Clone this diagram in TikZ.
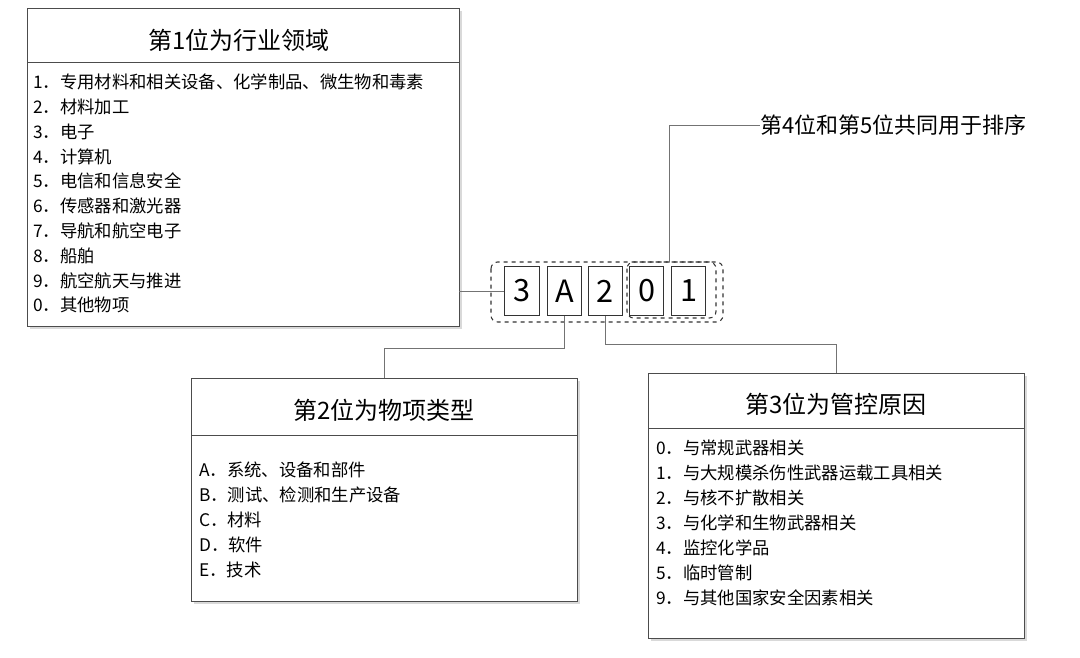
\documentclass[tikz,border=0pt]{standalone}
\usepackage{fontspec}
\setmainfont{Noto Sans CJK SC}
\usetikzlibrary{shadows}
\begin{document}
\begin{tikzpicture}[x=0.75pt,y=-0.75pt,
  panel/.style={draw=black!70,fill=white,line width=0.7pt,drop shadow={shadow xshift=2pt,shadow yshift=-2pt,opacity=0.3}},
  digit/.style={draw=black!80,line width=0.8pt,minimum width=26pt,minimum height=37pt,inner sep=0pt,font=\fontsize{23}{23}\selectfont},
  conn/.style={draw=black!55,line width=0.7pt},
  item/.style={anchor=west,font=\fontsize{13}{14}\selectfont,inner sep=0pt},
  ttl/.style={font=\fontsize{18}{19}\selectfont,inner sep=0pt}]
\useasboundingbox (0,0) rectangle (1080,657);
% box 1
\draw[panel] (27,8) rectangle (459,326);
\draw[black!70,line width=0.7pt] (27,62) -- (459,62);
\node[ttl] (t1) at (239,40) {第1位为行业领域};
\foreach \t [count=\i from 0] in {1．专用材料和相关设备、化学制品、微生物和毒素,2．材料加工,3．电子,4．计算机,5．电信和信息安全,6．传感器和激光器,7．导航和航空电子,8．船舶,9．航空航天与推进,0．其他物项}
  \node[item] (a\i) at (33,{82+24.8*\i}) {\t};
% box 2
\draw[panel] (191,378) rectangle (577,601);
\draw[black!70,line width=0.7pt] (191,435) -- (577,435);
\node[ttl] (t2) at (384,410) {第2位为物项类型};
\foreach \t [count=\i from 0] in {A．系统、设备和部件,B．测试、检测和生产设备,C．材料,D．软件,E．技术}
  \node[item] (b\i) at (199,{470+25*\i}) {\t};
% box 3
\draw[panel] (648,373) rectangle (1024,638);
\draw[black!70,line width=0.7pt] (648,428) -- (1024,428);
\node[ttl] (t3) at (836,404) {第3位为管控原因};
\foreach \t [count=\i from 0] in {0．与常规武器相关,1．与大规模杀伤性武器运载工具相关,2．与核不扩散相关,3．与化学和生物武器相关,4．监控化学品,5．临时管制,9．与其他国家安全因素相关}
  \node[item] (c\i) at (656,{448+25*\i}) {\t};
% digits
\draw[dashed,black!80,line width=0.8pt,rounded corners=5pt] (491,262) rectangle (723,322);
\draw[dashed,black!80,line width=0.8pt,rounded corners=5pt] (627,262) rectangle (716,318);
\node[digit] (d1) at (522,291) {3};
\node[digit] (d2) at (564.5,291) {A};
\node[digit] (d3) at (605.5,291) {2};
\node[digit] (d4) at (646.5,291) {0};
\node[digit] (d5) at (688.5,291) {1};
\node[anchor=west,inner sep=0pt,font=\fontsize{16.5}{17}\selectfont] (t4) at (760,125) {第4位和第5位共同用于排序};
% connectors
\coordinate (p1) at (459,291);
\draw[conn] (p1) -- (d1.west);
\draw[conn] (669,262) |- (t4.west);
\draw[conn] (d2.south) -- ++(0,32) -| (384,378);
\draw[conn] (d3.south) -- ++(0,28) -| (836,373);
\end{tikzpicture}
\end{document}
